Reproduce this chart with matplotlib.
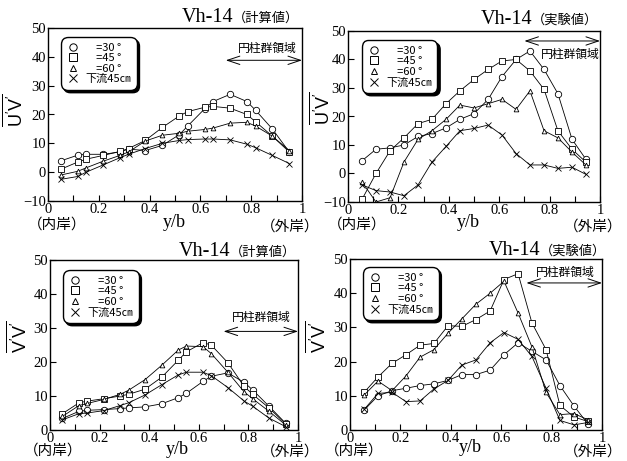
import matplotlib
matplotlib.use("Agg")
import matplotlib.pyplot as plt
from matplotlib.lines import Line2D
from matplotlib.ticker import MultipleLocator

plt.rcParams['font.family'] = ['Liberation Serif', 'DejaVu Serif']
plt.rcParams['mathtext.fontset'] = 'custom'
plt.rcParams['mathtext.rm'] = 'Liberation Sans'
plt.rcParams['mathtext.it'] = 'Liberation Sans'

CJK = ['Noto Sans CJK JP', 'DejaVu Sans']

# ---------------- data ----------------
x_calc = [0.05, 0.117, 0.15, 0.217, 0.283, 0.317, 0.383, 0.45, 0.517, 0.55,
          0.617, 0.65, 0.717, 0.783, 0.817, 0.883, 0.95]
x_exp = [0.056, 0.111, 0.167, 0.222, 0.278, 0.333, 0.389, 0.444, 0.5, 0.556,
         0.611, 0.667, 0.722, 0.778, 0.833, 0.889, 0.944]

series_labels = ['\u3000=30 °', '\u3000=45 °', '\u3000=60 °', '下流45㎝']

# U'V' computed
uv_calc_30 = [3.9, 5.9, 6.2, 6.2, 7.0, 8.0, 7.5, 9.3, 13.0, 16.0, 22.0, 24.5, 27.0, 24.5, 21.5, 15.0, 7.0]
uv_calc_45 = [1.0, 3.5, 4.5, 5.8, 7.2, 8.2, 11.0, 15.5, 19.5, 21.0, 22.5, 22.8, 22.2, 20.0, 17.5, 12.5, 7.0]
uv_calc_60 = [-1.0, 0.3, 1.5, 3.8, 5.8, 7.0, 10.8, 12.8, 13.5, 14.2, 14.8, 15.3, 17.0, 17.3, 16.0, 12.5, 7.5]
uv_calc_ds = [-2.5, -1.5, 0.0, 2.5, 5.0, 6.2, 8.2, 10.0, 11.0, 11.3, 11.5, 11.5, 11.2, 9.7, 8.5, 5.8, 3.0]

# U'V' experimental
uv_exp_30 = [4.5, 8.5, 9.0, 10.0, 13.0, 14.0, 16.0, 19.0, 21.0, 26.0, 34.0, 40.0, 43.0, 36.5, 28.0, 12.0, 5.0]
uv_exp_45 = [-9.0, 0.0, 8.0, 12.5, 17.5, 19.0, 24.5, 29.0, 33.0, 36.5, 39.5, 40.0, 36.0, 29.5, 15.0, 8.5, 4.0]
uv_exp_60 = [-3.0, -10.0, -8.5, 4.0, 12.0, 15.0, 19.0, 24.0, 23.0, 24.5, 26.0, 22.5, 29.0, 15.0, 12.5, 7.5, 3.0]
uv_exp_ds = [-4.0, -6.0, -6.5, -7.8, -4.0, 4.0, 9.5, 15.0, 15.8, 17.0, 13.5, 7.0, 3.0, 3.0, 1.8, 2.2, -0.3]

# V'V' computed
vv_calc_30 = [3.4, 5.5, 5.8, 6.0, 6.3, 6.5, 6.8, 7.7, 9.5, 10.8, 14.3, 15.8, 16.8, 14.0, 11.8, 7.0, 2.0]
vv_calc_45 = [4.8, 8.0, 8.5, 9.2, 10.0, 10.5, 12.0, 15.5, 20.5, 23.0, 25.7, 25.0, 19.8, 12.8, 10.5, 6.5, 1.8]
vv_calc_60 = [4.0, 7.2, 7.8, 9.0, 10.5, 11.7, 14.8, 19.0, 23.5, 24.7, 24.5, 22.5, 17.0, 11.2, 9.2, 5.5, 1.5]
vv_calc_ds = [3.0, 4.8, 5.0, 5.7, 7.2, 8.0, 10.3, 13.3, 16.2, 17.0, 17.0, 16.0, 12.5, 8.5, 7.0, 3.5, 1.0]

# V'V' experimental
vv_exp_30 = [5.8, 10.0, 11.5, 12.2, 13.0, 13.5, 14.5, 16.2, 16.2, 17.5, 22.0, 25.5, 23.0, 20.5, 13.0, 7.0, 1.8]
vv_exp_45 = [11.0, 15.5, 19.5, 22.0, 24.8, 25.3, 30.5, 30.3, 32.3, 34.8, 44.0, 45.7, 31.3, 23.5, 7.2, 3.8, 2.5]
vv_exp_60 = [10.2, 14.3, 11.5, 15.8, 21.3, 23.5, 28.3, 32.5, 36.8, 40.0, 43.5, 34.2, 24.3, 11.0, 4.5, 4.8, 3.0]
vv_exp_ds = [6.0, 10.7, 11.0, 8.3, 8.5, 12.0, 14.5, 19.0, 20.5, 25.5, 28.5, 26.5, 21.5, 12.2, 2.8, 1.5, 2.2]

# ---------------- layout helpers ----------------
W, H = 627, 461
fig = plt.figure(figsize=(W / 100, H / 100), dpi=100)


def px_axes(l, t, r, b):
    return fig.add_axes([l / W, 1 - b / H, (r - l) / W, (b - t) / H])


def ftext(px, py, s, **kw):
    fig.text(px / W, 1 - py / H, s, **kw)


markers = [dict(marker='o', ms=4.6), dict(marker='s', ms=4.4),
           dict(marker='^', ms=3.4), dict(marker='x', ms=4.6)]

panels = [
    dict(box=(48, 28, 302, 201), xs=x_calc, ys=[uv_calc_30, uv_calc_45, uv_calc_60, uv_calc_ds],
         ylim=(-10, 50), kind='計算値', ylab=r'$\overline{\mathrm{U^{\prime}V^{\prime}}}$',
         arrow_y=38.8, text_xy=(0.862, 43.0), leg=(0.051, 0.948),
         title=(233, 22), ylab_xy=(14, 110), xlab=(174, 222), inner=(57, 225), outer=(290, 227)),
    dict(box=(348, 31, 600, 202), xs=x_exp, ys=[uv_exp_30, uv_exp_45, uv_exp_60, uv_exp_ds],
         ylim=(-10, 50), kind='実験値', ylab=r'$\overline{\mathrm{U^{\prime}V^{\prime}}}$',
         arrow_y=46.5, text_xy=(0.883, 41.8), leg=(0.054, 0.947),
         title=(532, 24), ylab_xy=(321, 108), xlab=(468, 222), inner=(357, 225), outer=(593, 227)),
    dict(box=(50, 260, 298, 430), xs=x_calc, ys=[vv_calc_30, vv_calc_45, vv_calc_60, vv_calc_ds],
         ylim=(0, 50), kind='計算値', ylab=r'$\overline{\mathrm{V^{\prime}V^{\prime}}}$',
         arrow_y=29.0, text_xy=(0.852, 33.0), leg=(0.052, 0.941),
         title=(230, 256), ylab_xy=(18, 337), xlab=(177, 449), inner=(53, 451), outer=(290, 452)),
    dict(box=(350, 259, 602, 430), xs=x_exp, ys=[vv_exp_30, vv_exp_45, vv_exp_60, vv_exp_ds],
         ylim=(0, 50), kind='実験値', ylab=r'$\overline{\mathrm{V^{\prime}V^{\prime}}}$',
         arrow_y=43.0, text_xy=(0.855, 46.1), leg=(0.051, 0.953),
         title=(540, 255), ylab_xy=(317, 337), xlab=(470, 447), inner=(354, 451), outer=(593, 452)),
]

for p in panels:
    ax = px_axes(*p['box'])
    for ys, mk in zip(p['ys'], markers):
        ax.plot(p['xs'], ys, color='black', lw=0.6, mfc='white', mec='black', mew=0.6, **mk)
    ax.set_xlim(0, 1)
    ax.set_ylim(*p['ylim'])
    ax.xaxis.set_minor_locator(MultipleLocator(0.1))
    ax.yaxis.set_major_locator(MultipleLocator(10))
    xt = [0, 0.2, 0.4, 0.6, 0.8, 1]
    ax.set_xticks(xt)
    ax.set_xticklabels(['0', '0.2', '0.4', '0.6', '0.8', '1'])
    ax.tick_params(which='both', direction='in', length=4, width=0.8, labelsize=10.5,
                   top=False, right=False, pad=1.5)
    for s in ax.spines.values():
        s.set_linewidth(1.0)

    # legend (proxy handles)
    handles = [Line2D([], [], ls='none', color='black', mfc='white', mec='black', mew=0.7, **m)
               for m in markers]
    leg = ax.legend(handles, series_labels, loc='upper left', bbox_to_anchor=p['leg'],
                    borderaxespad=0, frameon=True, fancybox=True,
                    shadow={'color': 'black', 'alpha': 1.0},
                    prop={'family': CJK, 'size': 8}, borderpad=0.5, handlelength=1.2,
                    handletextpad=0.5, labelspacing=0.05, markerscale=1.15)
    fr = leg.get_frame()
    fr.set_edgecolor('black')
    fr.set_linewidth(1.0)
    fr.set_alpha(1.0)
    fr.set_boxstyle('round,pad=0.,rounding_size=0.6')

    # cylinder-region arrow and text
    ax.annotate('', xy=(1.0, p['arrow_y']), xytext=(0.7, p['arrow_y']),
                arrowprops=dict(arrowstyle='<->,head_length=0.9,head_width=0.3',
                                lw=0.7, color='black', shrinkA=0, shrinkB=0),
                annotation_clip=False)
    ax.text(p['text_xy'][0], p['text_xy'][1], '円柱群領域', ha='center', va='center',
            family=CJK, fontsize=8.5)

    # titles
    tx, ty = p['title']
    ftext(tx, ty, 'Vh-14', ha='right', va='baseline', fontsize=14.5)
    ftext(tx, ty, '（' + p['kind'] + '）', ha='left', va='baseline', family=CJK, fontsize=9.5)

    # y label
    ftext(p['ylab_xy'][0], p['ylab_xy'][1], p['ylab'], rotation=90, ha='center', va='center',
          fontsize=13)
    # x labels
    ftext(p['xlab'][0], p['xlab'][1], 'y/b', ha='center', va='center', fontsize=13)
    ftext(p['inner'][0], p['inner'][1], '（内岸）', ha='center', va='center', family=CJK, fontsize=10.5)
    ftext(p['outer'][0], p['outer'][1], '（外岸）', ha='center', va='center', family=CJK, fontsize=10.5)

fig.savefig('out.png', dpi=100)
